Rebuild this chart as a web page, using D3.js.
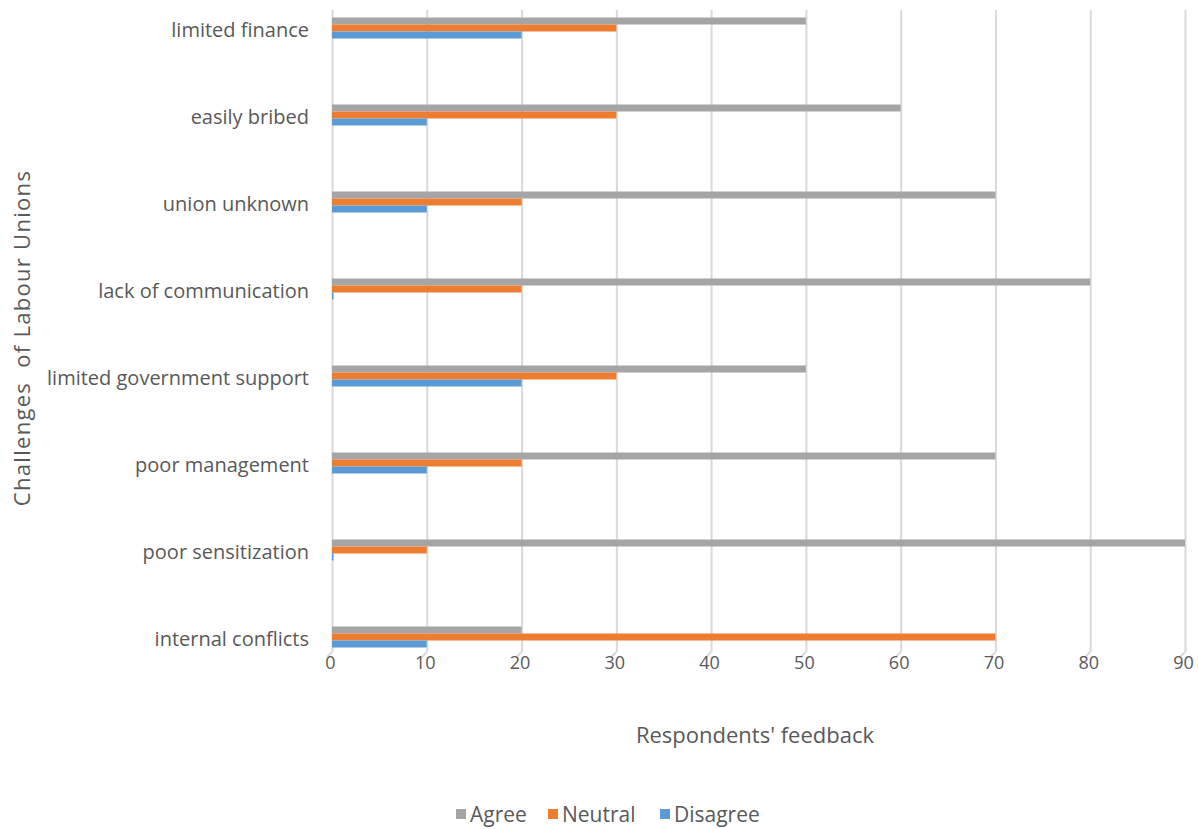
<!DOCTYPE html>
<html>
<head>
<meta charset="utf-8">
<script src="https://cdn.jsdelivr.net/npm/d3@7"></script>
<style>
  body { margin: 0; background: #fff; }
  text { font-family: "Open Sans", sans-serif; fill: #595959; }
</style>
</head>
<body>
<div id="chart"></div>
<script>
// data
var categories = ["limited finance", "easily bribed", "union unknown", "lack of communication",
  "limited government support", "poor management", "poor sensitization", "internal conflicts"];
var agree    = [50, 60, 70, 80, 50, 70, 90, 20];
var neutral  = [30, 30, 20, 20, 30, 20, 10, 70];
var disagree = [20, 10, 10, 0, 20, 10, 0, 10];
var seriesNames = ["Agree", "Neutral", "Disagree"];
var seriesColors = ["#a5a5a5", "#ed7d31", "#5b9bd5"];
var xTicks = [0, 10, 20, 30, 40, 50, 60, 70, 80, 90];

var width = 1198, height = 829;
var plotLeft = 332, plotRight = 1185, plotTop = 10, plotBottom = 652;

var svg = d3.select("#chart").append("svg")
  .attr("width", width)
  .attr("height", height);

var x = d3.scaleLinear().domain([0, 90]).range([plotLeft, plotRight]);
var y = d3.scaleBand().domain(categories).range([-15.5, 680.5]);
var inner = d3.scaleBand().domain(seriesNames).range([-10.5, 10.5]);

// gridlines
var grid = svg.append("g")
  .attr("transform", "translate(0," + plotBottom + ")")
  .call(d3.axisBottom(x).tickValues(xTicks).tickSize(-(plotBottom - plotTop)).tickFormat(""));
grid.select(".domain").remove();
grid.selectAll("line").attr("stroke", "#d9d9d9").attr("stroke-width", 2);

// little 3d floor ticks
svg.selectAll("floortick")
  .data(xTicks)
  .enter()
  .append("line")
    .attr("x1", function(d) { return x(d); })
    .attr("x2", function(d) { return x(d) - 5; })
    .attr("y1", plotBottom)
    .attr("y2", plotBottom + 5)
    .attr("stroke", "#d9d9d9")
    .attr("stroke-width", 2);

// tick labels
var xa = svg.append("g")
  .attr("transform", "translate(0," + plotBottom + ")")
  .call(d3.axisBottom(x).tickValues(xTicks).tickSize(0).tickPadding(4));
xa.select(".domain").remove();
xa.selectAll("text").style("font-size", "18px").attr("fill", "#595959")
  .attr("dy", "0.71em").attr("x", -2);

// category labels
var ya = svg.append("g")
  .attr("transform", "translate(309,0)")
  .call(d3.axisLeft(y).tickSize(0).tickPadding(0));
ya.select(".domain").remove();
ya.selectAll("text").style("font-size", "20px").attr("fill", "#595959")
  .attr("dy", "0.45em");

// bars
var seriesData = [agree, neutral, disagree];
seriesNames.forEach(function(name, si) {
  svg.selectAll("bar" + si)
    .data(categories)
    .enter()
    .append("rect")
      .attr("x", x(0))
      .attr("y", function(c) { return y(c) + y.bandwidth() / 2 + inner(name); })
      .attr("width", function(c, i) { return Math.max(1.5, x(seriesData[si][i]) - x(0)); })
      .attr("height", inner.bandwidth())
      .attr("fill", seriesColors[si]);
});

// axis titles
svg.append("text")
  .attr("x", 755)
  .attr("y", 743)
  .attr("text-anchor", "middle")
  .style("font-size", "22px")
  .text("Respondents' feedback");

svg.append("text")
  .attr("transform", "translate(30,338)rotate(-90)")
  .attr("text-anchor", "middle")
  .style("font-size", "22px")
  .style("letter-spacing", "1.3px")
  .text("Challenges\u00a0 of Labour Unions");

// legend
var legendX = [456, 548, 660];
var legend = svg.selectAll("legend")
  .data(seriesNames)
  .enter()
  .append("g")
    .attr("transform", function(d, i) { return "translate(" + legendX[i] + ",809)"; });
legend.append("rect")
  .attr("width", 10).attr("height", 10)
  .attr("fill", function(d, i) { return seriesColors[i]; });
legend.append("text")
  .attr("x", 14)
  .attr("y", 13)
  .style("font-size", "21px")
  .text(function(d) { return d; });
</script>
</body>
</html>
